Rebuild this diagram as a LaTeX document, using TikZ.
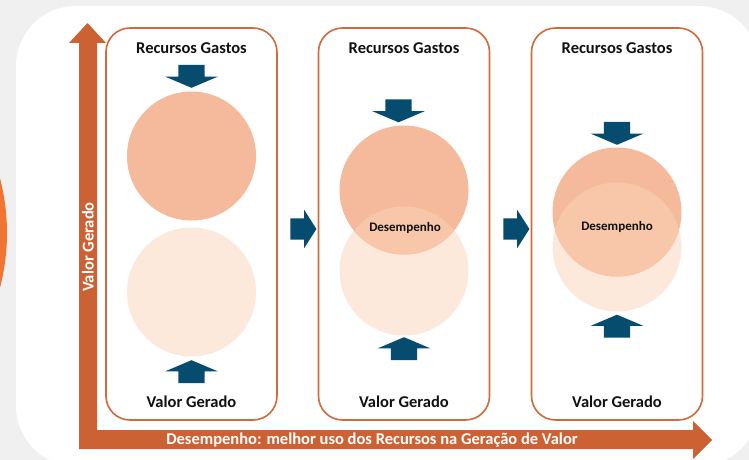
\documentclass[tikz,border=0pt]{standalone}
\usepackage{fontspec}
\setmainfont{Carlito}
\usepackage{xcolor}
\usepackage{tikz}
\usetikzlibrary{shapes,arrows,positioning,calc}
\definecolor{paper}{HTML}{F0F0F0}
\definecolor{flame}{HTML}{F07533}
\definecolor{rust}{HTML}{CC6133}
\definecolor{boxline}{HTML}{D06A3C}
\definecolor{navy}{HTML}{054C6E}
\definecolor{peach}{HTML}{F5B99C}
\definecolor{cream}{HTML}{FCE9DC}
\definecolor{apricot}{HTML}{F8C6A8}
\definecolor{ink}{HTML}{111111}
\tikzstyle{panel} = [rectangle, draw=boxline, line width=1.6pt, rounded corners=24pt, minimum width=171pt, minimum height=392pt]
\tikzstyle{spent} = [circle, fill=peach, minimum size=129pt, inner sep=0pt]
\tikzstyle{gain} = [circle, fill=cream, minimum size=129pt, inner sep=0pt]
\tikzstyle{caption} = [font=\fontsize{16.5}{18}\selectfont\bfseries, text=ink, inner sep=0pt]
\tikzstyle{perf} = [font=\fontsize{13}{15}\selectfont\bfseries, text=ink, inner sep=0pt]
\tikzstyle{axislabel} = [font=\fontsize{16.5}{18}\selectfont\bfseries, text=white, inner sep=0pt]
\tikzstyle{push} = [single arrow, fill=navy, inner xsep=0pt, inner ysep=13pt, minimum height=23pt, minimum width=52pt, single arrow head extend=13pt, single arrow tip angle=134]
\tikzstyle{next} = [single arrow, fill=navy, inner xsep=0pt, inner ysep=10.5pt, minimum height=26pt, minimum width=38pt, single arrow head extend=8.5pt, single arrow tip angle=115]

\begin{document}
\begin{tikzpicture}[x=1pt, y=-1pt]
    \useasboundingbox (0,0) rectangle (749,460);
    \clip (0,0) rectangle (749,460);
    \fill[paper] (0,0) rectangle (749,460);
    \fill[white, rounded corners=60pt] (16,6) rectangle (759,466);
    \fill[flame] (-209,233) circle[radius=216pt];
    % axes
    \fill[rust] (79,449) -- (79,43) -- (69,43) -- (87.5,23) -- (106,43) -- (97,43) -- (97,430)
        -- (693,430) -- (693,421) -- (712,440) -- (693,459) -- (693,449) -- cycle;
    \node[axislabel, rotate=90] (vlab) at (88,247) {Valor Gerado};
    \node[axislabel] (hlab) at (372,440) {Desempenho: melhor uso dos Recursos na Geração de Valor};
    % panels
    \node[panel] (p1) at (191.5,224) {};
    \node[panel] (p2) at (404,224) {};
    \node[panel] (p3) at (617,224) {};
    \node[spent] (s1) at (191.5,156) {};
    \node[gain] (g1) at (191.5,292) {};
    \node[gain] (g2) at (404,271) {};
    \node[spent] (s2) at (404,190) {};
    \node[gain] (g3) at (617,247) {};
    \node[spent] (s3) at (617,212) {};
    \begin{scope}
        \clip (s2.center) circle[radius=64.5pt];
        \fill[apricot] (g2.center) circle[radius=64.5pt];
    \end{scope}
    \begin{scope}
        \clip (s3.center) circle[radius=64.5pt];
        \fill[apricot] (g3.center) circle[radius=64.5pt];
    \end{scope}
    \node[perf] (d2) at (405,228) {Desempenho};
    \node[perf] (d3) at (617,227) {Desempenho};
    \node[caption] (r1) at (191.5,48) {Recursos Gastos};
    \node[caption] (r2) at (404,48) {Recursos Gastos};
    \node[caption] (r3) at (617,48) {Recursos Gastos};
    \node[caption] (v1) at (191.5,402) {Valor Gerado};
    \node[caption] (v2) at (404,402) {Valor Gerado};
    \node[caption] (v3) at (617,402) {Valor Gerado};
    % arrows
    \node[push, rotate=-90] (a1) at (191.5,73.5) {};
    \node[push, rotate=-90] (a2) at (398.5,108) {};
    \node[push, rotate=-90] (a3) at (617,130.5) {};
    \node[push, rotate=90] (u1) at (191.5,374.5) {};
    \node[push, rotate=90] (u2) at (404,351.5) {};
    \node[push, rotate=90] (u3) at (617,329) {};
    \node[next] (n1) at (300,229) {};
    \node[next] (n2) at (513,229) {};
\end{tikzpicture}
\end{document}
